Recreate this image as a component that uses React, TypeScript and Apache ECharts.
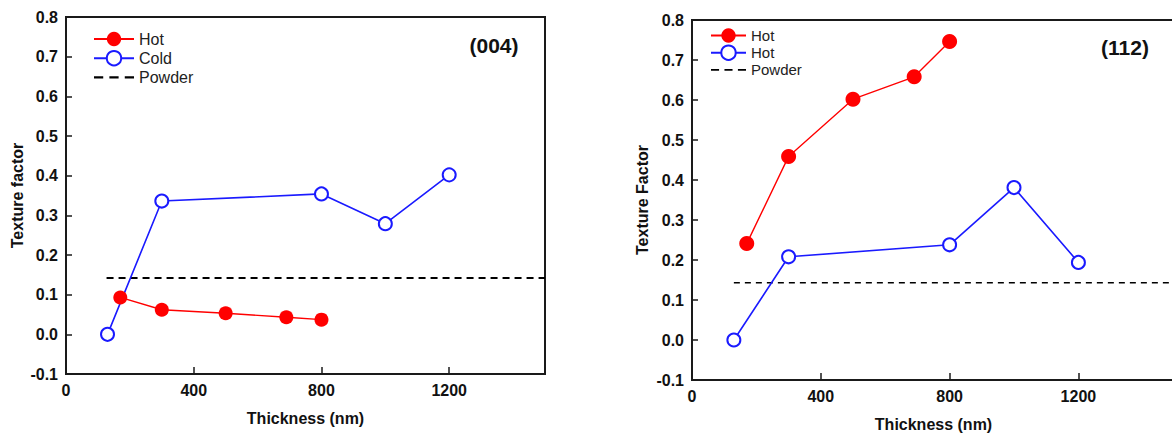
import React, { useEffect, useRef } from "react";
import * as echarts from "echarts";

// ---- Data: panel (004) ----
const hot004Thickness = [170, 300, 500, 690, 800];
const hot004Texture = [0.093, 0.062, 0.053, 0.043, 0.037];
const cold004Thickness = [130, 300, 800, 1000, 1200];
const cold004Texture = [0.0, 0.336, 0.354, 0.279, 0.402];
const powder004Thickness = [127, 1500];
const powder004Texture = [0.142, 0.142];

// ---- Data: panel (112) ----
const hot112Thickness = [170, 300, 500, 690, 800];
const hot112Texture = [0.241, 0.459, 0.602, 0.658, 0.746];
const open112Thickness = [130, 300, 800, 1000, 1200];
const open112Texture = [0.0, 0.208, 0.238, 0.381, 0.194];
const powder112Thickness = [130, 1500];
const powder112Texture = [0.143, 0.143];

const xTicks = [0, 400, 800, 1200];
const panelTitles = ["(004)", "(112)"];
const yAxisNames = ["Texture factor", "Texture Factor"];
const xAxisName = "Thickness (nm)";

const legendLabels: Record<string, string> = {
  Hot: "Hot",
  Cold: "Cold",
  Powder: "Powder",
  "Hot 112": "Hot",
  "Hot 112 open": "Hot",
  "Powder 112": "Powder",
};

const FONT = "'Liberation Sans', Arial, Helvetica, sans-serif";
const RED = "#ff0000";
const BLUE = "#1a1aff";
const AXIS = "#1a1a1a";

const pairs = (xs: number[], ys: number[]) => xs.map((x, i) => [x, ys[i]]);

const dashIcon = "path://M0,0h9v2h-9z M15,0h9v2h-9z M30,0h9v2h-9z";

function makeXAxis(gridIndex: number) {
  return {
    type: "value" as const,
    gridIndex,
    min: 0,
    max: 1500,
    interval: 400,
    name: xAxisName,
    nameLocation: "middle" as const,
    nameGap: 36,
    nameTextStyle: { fontFamily: FONT, fontSize: 16, fontWeight: "bold", color: "#111" },
    axisLine: { show: true, onZero: false, lineStyle: { color: AXIS, width: 2 } },
    axisTick: { show: true, inside: true, length: 7, lineStyle: { color: AXIS, width: 1.5 } },
    axisLabel: {
      margin: 8,
      fontFamily: FONT,
      fontSize: 16,
      fontWeight: "bold",
      color: "#111",
      formatter: (v: number) => (xTicks.includes(v) ? String(v) : ""),
    },
    splitLine: { show: false },
  };
}

function makeYAxis(gridIndex: number, name: string, nameGap: number) {
  return {
    type: "value" as const,
    gridIndex,
    min: -0.1,
    max: 0.8,
    interval: 0.1,
    name,
    nameLocation: "middle" as const,
    nameGap,
    nameTextStyle: { fontFamily: FONT, fontSize: 16, fontWeight: "bold", color: "#111" },
    axisLine: { show: true, onZero: false, lineStyle: { color: AXIS, width: 2 } },
    axisTick: { show: true, inside: true, length: 6, lineStyle: { color: AXIS, width: 1.5 } },
    axisLabel: {
      margin: 8,
      fontFamily: FONT,
      fontSize: 16,
      fontWeight: "bold",
      color: "#111",
      formatter: (v: number) => (Math.abs(v) < 1e-9 ? "0.0" : v.toFixed(1)),
    },
    splitLine: { show: false },
  };
}

export default function App() {
  const ref = useRef<HTMLDivElement>(null);

  useEffect(() => {
    if (!ref.current) return;
    const chart = echarts.init(ref.current, null, { renderer: "svg" });

    const option = {
      animation: false,
      backgroundColor: "#ffffff",
      grid: [
        { left: 66, top: 17, width: 479, height: 357, show: true, borderColor: AXIS, borderWidth: 2, backgroundColor: "transparent", containLabel: false, outerBoundsMode: "none" },
        { left: 692, top: 20, width: 483, height: 360, show: true, borderColor: AXIS, borderWidth: 2, backgroundColor: "transparent", containLabel: false, outerBoundsMode: "none" },
      ],
      xAxis: [makeXAxis(0), makeXAxis(1)],
      yAxis: [makeYAxis(0, yAxisNames[0], 41), makeYAxis(1, yAxisNames[1], 42)],
      legend: [
        {
          orient: "vertical",
          left: 93,
          top: 31,
          padding: 0,
          itemWidth: 40,
          itemHeight: 18,
          itemGap: 3,
          selectedMode: false,
          textStyle: { fontFamily: FONT, fontSize: 16, color: "#222" },
          formatter: (n: string) => legendLabels[n] ?? n,
          data: [{ name: "Hot" }, { name: "Cold" }, { name: "Powder", icon: dashIcon }],
        },
        {
          orient: "vertical",
          left: 710,
          top: 28,
          padding: 0,
          itemWidth: 35,
          itemHeight: 18,
          itemGap: 1.5,
          selectedMode: false,
          textStyle: { fontFamily: FONT, fontSize: 15, color: "#222" },
          formatter: (n: string) => legendLabels[n] ?? n,
          data: [{ name: "Hot 112" }, { name: "Hot 112 open" }, { name: "Powder 112", icon: dashIcon }],
        },
      ],
      graphic: [
        {
          type: "text",
          x: 494,
          y: 45,
          style: { text: panelTitles[0], fontFamily: FONT, fontSize: 21, fontWeight: "bold", fill: "#111", align: "center", verticalAlign: "middle" },
        },
        {
          type: "text",
          x: 1125,
          y: 47,
          style: { text: panelTitles[1], fontFamily: FONT, fontSize: 21, fontWeight: "bold", fill: "#111", align: "center", verticalAlign: "middle" },
        },
      ],
      series: [
        {
          name: "Powder",
          type: "line",
          xAxisIndex: 0,
          yAxisIndex: 0,
          data: pairs(powder004Thickness, powder004Texture),
          symbol: "none",
          color: "#000",
          lineStyle: { color: "#000", width: 2, type: [7, 5] },
          z: 1,
        },
        {
          name: "Cold",
          type: "line",
          xAxisIndex: 0,
          yAxisIndex: 0,
          data: pairs(cold004Thickness, cold004Texture),
          symbol: "emptyCircle",
          symbolSize: 13,
          color: BLUE,
          lineStyle: { color: BLUE, width: 1.6 },
          itemStyle: { color: BLUE, borderColor: BLUE, borderWidth: 1.6 },
          z: 2,
        },
        {
          name: "Hot",
          type: "line",
          xAxisIndex: 0,
          yAxisIndex: 0,
          data: pairs(hot004Thickness, hot004Texture),
          symbol: "circle",
          symbolSize: 14,
          color: RED,
          lineStyle: { color: RED, width: 1.4 },
          itemStyle: { color: RED },
          z: 3,
        },
        {
          name: "Powder 112",
          type: "line",
          xAxisIndex: 1,
          yAxisIndex: 1,
          data: pairs(powder112Thickness, powder112Texture),
          symbol: "none",
          color: "#000",
          lineStyle: { color: "#000", width: 1.6, type: [6, 5] },
          z: 1,
        },
        {
          name: "Hot 112 open",
          type: "line",
          xAxisIndex: 1,
          yAxisIndex: 1,
          data: pairs(open112Thickness, open112Texture),
          symbol: "emptyCircle",
          symbolSize: 13,
          color: BLUE,
          lineStyle: { color: BLUE, width: 1.6 },
          itemStyle: { color: BLUE, borderColor: BLUE, borderWidth: 1.6 },
          z: 2,
        },
        {
          name: "Hot 112",
          type: "line",
          xAxisIndex: 1,
          yAxisIndex: 1,
          data: pairs(hot112Thickness, hot112Texture),
          symbol: "circle",
          symbolSize: 15,
          color: RED,
          lineStyle: { color: RED, width: 1.4 },
          itemStyle: { color: RED },
          z: 3,
        },
      ],
    };

    chart.setOption(option as any);
    return () => chart.dispose();
  }, []);

  return (
    <div
      ref={ref}
      style={{ position: "fixed", left: 0, top: 0, width: 1172, height: 435, background: "#fff" }}
    />
  );
}
